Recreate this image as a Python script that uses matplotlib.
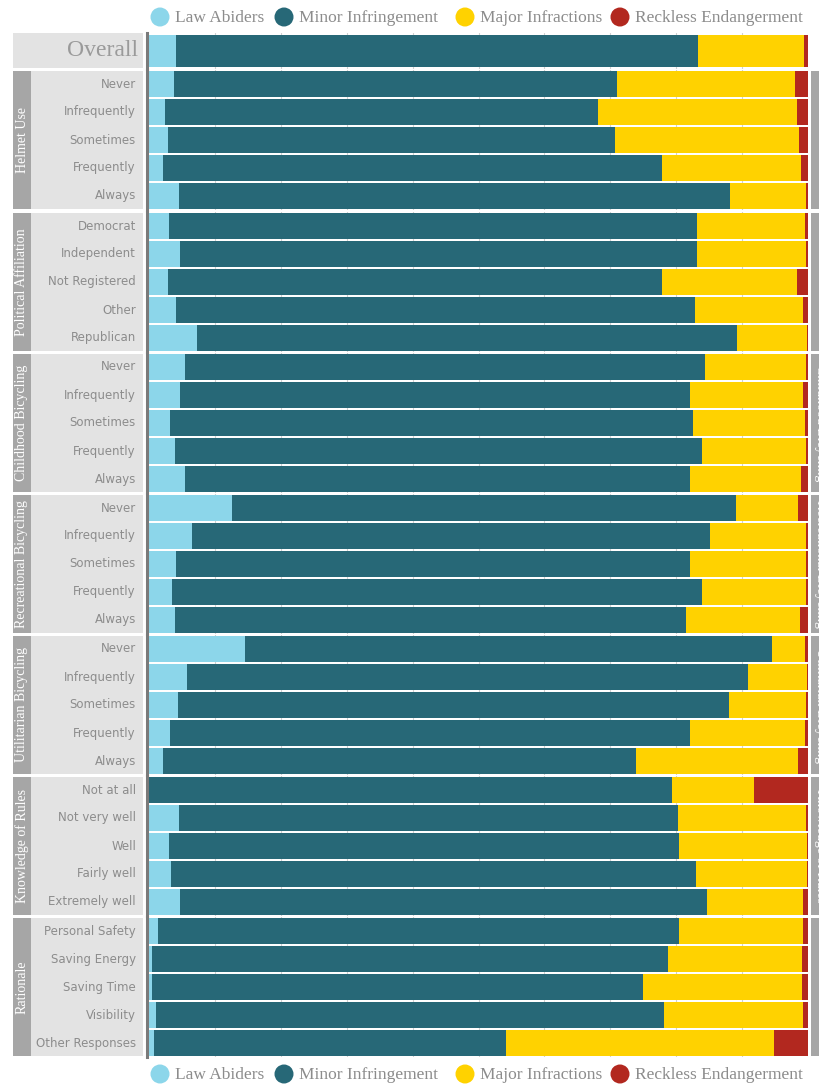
import matplotlib
matplotlib.use("Agg")
import matplotlib.pyplot as plt
from matplotlib.patches import Rectangle, Ellipse

# ---- data (shares of respondents per category) ----
series = ["Law Abiders", "Minor Infringement", "Major Infractions", "Reckless Endangerment"]
colors = ["#8cd6ea", "#276877", "#ffd200", "#b2281f"]

overall = [0.041, 0.792, 0.161, 0.006]

groups = ["Helmet Use", "Political Affiliation", "Childhood Bicycling",
          "Recreational Bicycling", "Utilitarian Bicycling", "Knowledge of Rules", "Rationale"]

freq = ["Never", "Infrequently", "Sometimes", "Frequently", "Always"]
helmet_labels = freq
helmet = [[0.038, 0.672, 0.270, 0.020],
          [0.024, 0.657, 0.302, 0.017],
          [0.029, 0.678, 0.279, 0.014],
          [0.021, 0.757, 0.211, 0.011],
          [0.046, 0.836, 0.115, 0.003]]

political_labels = ["Democrat", "Independent", "Not Registered", "Other", "Republican"]
political = [[0.030, 0.801, 0.164, 0.005],
             [0.047, 0.785, 0.165, 0.003],
             [0.029, 0.750, 0.204, 0.017],
             [0.041, 0.788, 0.163, 0.008],
             [0.073, 0.819, 0.106, 0.002]]

childhood_labels = freq
childhood = [[0.055, 0.789, 0.153, 0.003],
             [0.047, 0.774, 0.171, 0.008],
             [0.032, 0.794, 0.169, 0.005],
             [0.039, 0.800, 0.158, 0.003],
             [0.055, 0.766, 0.168, 0.011]]

recreational_labels = freq
recreational = [[0.126, 0.765, 0.094, 0.015],
                [0.065, 0.786, 0.146, 0.003],
                [0.041, 0.780, 0.176, 0.003],
                [0.035, 0.804, 0.158, 0.003],
                [0.039, 0.776, 0.173, 0.012]]

utilitarian_labels = freq
utilitarian = [[0.146, 0.800, 0.050, 0.004],
               [0.058, 0.851, 0.089, 0.002],
               [0.044, 0.836, 0.117, 0.003],
               [0.032, 0.789, 0.174, 0.005],
               [0.021, 0.718, 0.246, 0.015]]

knowledge_labels = ["Not at all", "Not very well", "Well", "Fairly well", "Extremely well"]
knowledge = [[0.000, 0.794, 0.124, 0.082],
             [0.046, 0.757, 0.194, 0.003],
             [0.030, 0.774, 0.194, 0.002],
             [0.033, 0.797, 0.168, 0.002],
             [0.047, 0.799, 0.146, 0.008]]

rationale_labels = ["Personal Safety", "Saving Energy", "Saving Time", "Visibility", "Other Responses"]
rationale = [[0.014, 0.791, 0.187, 0.008],
             [0.005, 0.783, 0.203, 0.009],
             [0.005, 0.744, 0.242, 0.009],
             [0.011, 0.771, 0.210, 0.008],
             [0.008, 0.533, 0.407, 0.052]]

group_labels = [helmet_labels, political_labels, childhood_labels, recreational_labels,
                utilitarian_labels, knowledge_labels, rationale_labels]
group_values = [helmet, political, childhood, recreational, utilitarian, knowledge, rationale]

# ---- layout (pixels) ----
W, H = 819, 1084
fig = plt.figure(figsize=(W / 100, H / 100), dpi=100)
fig.patch.set_facecolor("white")

X0, X1 = 149, 808  # bar area
LIGHT = "#e3e3e3"; DARK = "#a6a6a6"; TXT = "#8c8c8c"; SPINE = "#7a7a7a"
SERIF = ["Liberation Serif", "DejaVu Serif"]


def fx(x): return x / W
def fy(y): return 1 - y / H


def frect(x, y, w, h, color):
    fig.patches.append(Rectangle((fx(x), fy(y + h)), w / W, h / H, transform=fig.transFigure,
                                 facecolor=color, edgecolor="none", zorder=0))


def panel(top, bottom, rows):
    ax = fig.add_axes([fx(X0), fy(bottom), (X1 - X0) / W, (bottom - top) / H])
    n = len(rows)
    left = [0.0] * n
    ypos = list(range(n))
    for k in range(4):
        vals = [r[k] for r in rows]
        ax.barh(ypos, vals, left=left, height=0.9, color=colors[k], zorder=2)
        left = [a + b for a, b in zip(left, vals)]
    ax.set_xlim(0, 1)
    ax.set_ylim(n - 0.5, -0.5)
    for g in [i / 10 for i in range(1, 11)]:
        ax.axvline(g, color="#d0d0d0", lw=0.8, zorder=1)
    ax.set_xticks([]); ax.set_yticks([])
    for s in ax.spines.values():
        s.set_visible(False)
    ax.set_facecolor("white")
    fig.add_artist(plt.Line2D([fx(147), fx(147)], [fy(top), fy(bottom)], transform=fig.transFigure,
                              color=SPINE, lw=2.2))
    return ax


# overall panel
panel(33, 69, [overall])
frect(13, 33, 130, 35, LIGHT)
fig.text(fx(138), fy(51), "Overall", ha="right", va="center", color="#9a9a9a",
         fontsize=17, family=SERIF)

tops = [70, 212, 353, 494, 635, 776, 917]
for gi, (name, labs, vals) in enumerate(zip(groups, group_labels, group_values)):
    top = tops[gi]; bottom = top + 140
    panel(top, bottom, vals)
    frect(13, top + 1, 18, 138, DARK)
    frect(31, top + 1, 112, 138, LIGHT)
    fig.text(fx(22), fy((top + bottom) / 2), name, rotation=90, ha="center", va="center",
             color="white", fontsize=10, family=SERIF)
    for ri, lab in enumerate(labs):
        fig.text(fx(136), fy(top + 14 + 28 * ri), lab, ha="right", va="center",
                 color=TXT, fontsize=8.5, family="DejaVu Sans")
    # right strip (mostly cut off by the figure edge, as in the original)
    frect(811, top + 1, 20, 138, DARK)
    fig.text(fx(821), fy((top + bottom) / 2), name, rotation=270, ha="center", va="center",
             color="white", fontsize=10, family=SERIF)


def legend(yc):
    xs = [160, 284, 465, 620]
    for x, c, s in zip(xs, colors, series):
        fig.patches.append(Ellipse((fx(x), fy(yc)), 19 / W, 19 / H, transform=fig.transFigure,
                                   facecolor=c, edgecolor="none"))
        fig.text(fx(x + 15), fy(yc + 1), s, ha="left", va="center", color=TXT,
                 fontsize=12.5, family=SERIF)


legend(17)
legend(1074)

fig.savefig("out.png", dpi=100, facecolor="white")
